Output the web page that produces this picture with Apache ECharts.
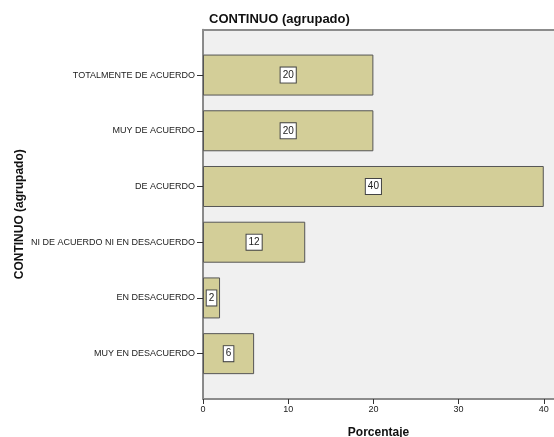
<!DOCTYPE html>
<html>
<head>
<meta charset="utf-8">
<script src="https://cdn.jsdelivr.net/npm/echarts@6/dist/echarts.min.js"></script>
<style>
  html, body { margin: 0; padding: 0; background: #fff; }
  #chart { width: 554px; height: 437px; }
</style>
</head>
<body>
<div id="chart"></div>
<script>
// Response categories, listed top to bottom
var categories = [
  'TOTALMENTE DE ACUERDO',
  'MUY DE ACUERDO',
  'DE ACUERDO',
  'NI DE ACUERDO NI EN DESACUERDO',
  'EN DESACUERDO',
  'MUY EN DESACUERDO'
];
// Percentage for each category
var percentages = [20, 20, 40, 12, 2, 6];
// Percent axis
var xMin = 0;
var xMax = 41.2;
var xStep = 10;

var FONT = 'Arial, "Liberation Sans", sans-serif';
var chart = echarts.init(document.getElementById('chart'));

chart.setOption({
  animation: false,
  textStyle: { fontFamily: FONT },
  title: {
    text: 'CONTINUO (agrupado)',
    left: 204,
    top: 8,
    textStyle: { fontSize: 13, fontWeight: 'bold', color: '#111', fontFamily: FONT }
  },
  grid: [
    // frame: grey plot background with the percent axis
    { left: 203, top: 29.5, right: 0, bottom: 38, show: true, backgroundColor: '#f0f0f0', borderWidth: 0,
      outerBoundsMode: 'none', containLabel: false },
    // bars
    { left: 203, top: 47.2, right: 0, bottom: 55.5, outerBoundsMode: 'none', containLabel: false }
  ],
  xAxis: [
    {
      gridIndex: 0, type: 'value', min: xMin, max: xMax, interval: xStep,
      axisLine: { show: true, lineStyle: { color: '#8c8c8c', width: 2 } },
      axisTick: { show: true, length: 5, lineStyle: { color: '#333' } },
      axisLabel: { fontSize: 9, color: '#222', margin: 6, showMaxLabel: false, fontFamily: FONT },
      splitLine: { show: false },
      name: 'Porcentaje', nameLocation: 'middle', nameGap: 28,
      nameTextStyle: { fontSize: 12, fontWeight: 'bold', color: '#111', fontFamily: FONT }
    },
    {
      gridIndex: 0, type: 'value', position: 'top', min: xMin, max: xMax,
      axisLine: { show: true, lineStyle: { color: '#8c8c8c', width: 2 } },
      axisTick: { show: false }, axisLabel: { show: false }, splitLine: { show: false }
    },
    {
      gridIndex: 1, type: 'value', min: xMin, max: xMax, show: false
    }
  ],
  yAxis: [
    {
      gridIndex: 0, type: 'value', min: 0, max: 1,
      axisLine: { show: true, lineStyle: { color: '#666', width: 1.5 } },
      axisTick: { show: false }, axisLabel: { show: false }, splitLine: { show: false },
      name: 'CONTINUO (agrupado)', nameLocation: 'middle', nameRotate: 90, nameGap: 177,
      nameTextStyle: { fontSize: 12, fontWeight: 'bold', color: '#111', fontFamily: FONT }
    },
    {
      gridIndex: 1, type: 'category', data: categories, inverse: true,
      axisLine: { show: false },
      axisTick: { show: true, alignWithLabel: true, length: 6, lineStyle: { color: '#333' } },
      axisLabel: { fontSize: 9, color: '#222', margin: 8, fontFamily: FONT },
      splitLine: { show: false }
    }
  ],
  series: [{
    type: 'bar',
    xAxisIndex: 2,
    yAxisIndex: 1,
    data: percentages,
    barWidth: 41,
    itemStyle: { color: '#d3ce98', borderColor: '#555', borderWidth: 1 },
    label: {
      show: true, position: 'inside', formatter: '{c}',
      fontSize: 10, color: '#222', fontFamily: FONT,
      backgroundColor: '#fff', borderColor: '#444', borderWidth: 1,
      padding: [3, 2, 2, 2]
    }
  }]
});
</script>
</body>
</html>
